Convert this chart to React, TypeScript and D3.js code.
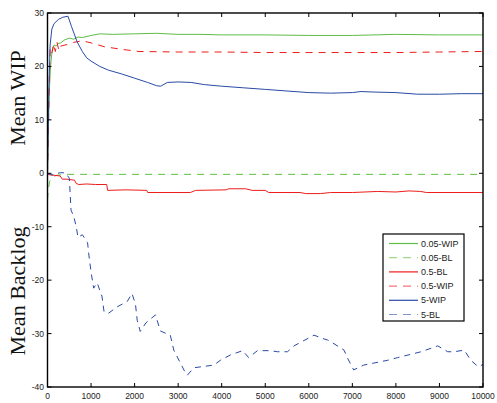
import React from 'react';
import * as d3 from 'd3';

const WIDTH = 497;
const HEIGHT = 403;
const PLOT = { left: 47.5, right: 483, top: 13, bottom: 387 };

type Pt = [number, number];

// time, value
const wip005: Pt[] = [
  [0, 0], [20, 8], [40, 15], [70, 20], [100, 22.5], [150, 24], [200, 23.8], [250, 24.3], [300, 24.4],
  [400, 25], [500, 25.3], [600, 25.1], [700, 25.5], [800, 25.4], [1000, 25.8], [1200, 26.1], [1500, 26],
  [2000, 26.1], [2500, 26.2], [3000, 26], [3500, 26], [4000, 25.9], [5000, 25.9], [6000, 25.8],
  [7000, 25.8], [8000, 26], [9000, 25.9], [10000, 25.9],
];
const bl005: Pt[] = [
  [0, -5], [20, -3], [50, -1.5], [100, -0.8], [200, -0.4], [400, -0.2], [1000, -0.2], [3000, -0.2],
  [6000, -0.2], [8000, -0.2], [10000, -0.2],
];
const bl05: Pt[] = [
  [0, -0.2], [60, -0.3], [290, -0.5], [340, -1.1], [450, -1.1], [620, -1.3], [660, -1.9], [720, -2.1],
  [900, -2], [1100, -2.1], [1360, -2.1], [1380, -3.2], [1800, -3.1], [2280, -3.2], [2300, -3.6],
  [3280, -3.6], [3400, -3.2], [4100, -3.1], [4160, -2.9], [4550, -2.9], [4700, -3.2], [5000, -3.2],
  [5080, -3.6], [5800, -3.6], [5930, -3.8], [6270, -3.8], [6500, -3.6], [7000, -3.6], [7580, -3.4],
  [8000, -3.5], [8300, -3.3], [8570, -3.4], [8700, -3.6], [10000, -3.6],
];
const wip05: Pt[] = [
  [0, 0], [30, 12], [60, 23.4], [100, 22.5], [140, 24.2], [180, 22.8], [220, 24.5], [260, 23], [300, 23.8],
  [400, 24], [500, 24.2], [600, 24.5], [800, 24.8], [1000, 24.4], [1300, 23.7], [1700, 23.2],
  [2100, 22.8], [3000, 22.7], [4000, 22.7], [5000, 22.6], [6000, 22.6], [7000, 22.6], [8000, 22.6],
  [9000, 22.7], [10000, 22.8],
];
const wip5: Pt[] = [
  [0, 0], [30, 15], [60, 24], [100, 27], [150, 28], [250, 28.8], [350, 29.2], [470, 29.4], [550, 27.5],
  [680, 24.6], [800, 22.8], [900, 21.6], [1000, 21], [1200, 20], [1400, 19.3], [1700, 18.6], [2000, 17.8],
  [2300, 17], [2500, 16.4], [2600, 16.3], [2750, 17], [3000, 17.1], [3300, 17], [3600, 16.6],
  [4000, 16.3], [4500, 16], [5000, 15.7], [5500, 15.4], [6000, 15.1], [6500, 15], [7000, 15.1],
  [7200, 15.3], [7500, 15.2], [8000, 15.1], [8500, 14.8], [9000, 14.8], [9500, 14.9], [10000, 14.9],
];
const bl5: Pt[] = [
  [0, 0], [100, -0.3], [290, 0.1], [410, 0.1], [500, -0.9], [510, -2.2], [540, -6.9], [600, -8],
  [660, -10], [700, -12], [800, -11.5], [920, -13], [960, -16], [1010, -19], [1060, -21.5], [1140, -20.5],
  [1250, -23], [1300, -26], [1400, -26.2], [1600, -25], [1830, -24], [1940, -22.5], [2020, -24.5],
  [2060, -27.5], [2130, -29.6], [2260, -28], [2480, -26.5], [2590, -29.5], [2700, -29.9], [2820, -30.3],
  [2900, -33.1], [3170, -37.4], [3210, -37.8], [3360, -36.4], [3820, -35.9], [3970, -35], [4200, -34],
  [4480, -33.2], [4620, -34.5], [4820, -33.2], [5120, -33.2], [5280, -33.4], [5510, -33.4],
  [5660, -32.3], [6120, -30.3], [6350, -31], [6430, -31.2], [6500, -31.5], [6810, -33.1], [6890, -34.6],
  [7030, -36.8], [7260, -35.9], [7810, -35], [8040, -34.5], [8580, -33.4], [8960, -32.3], [9190, -33.4],
  [9340, -33.4], [9570, -33.1], [9720, -35], [9890, -36.2], [10000, -35.8],
];

const xTicks = [0, 1000, 2000, 3000, 4000, 5000, 6000, 7000, 8000, 9000, 10000];
const yTicks = [30, 20, 10, 0, -10, -20, -30, -40];

const GREEN = '#5fbd45';
const RED = '#ee1c1c';
const BLUE = '#2a4aa5';

const series = [
  { name: '0.05-WIP', data: wip005, color: GREEN, dash: null },
  { name: '0.05-BL', data: bl005, color: GREEN, dash: '7,6' },
  { name: '0.5-BL', data: bl05, color: RED, dash: null },
  { name: '0.5-WIP', data: wip05, color: RED, dash: '7,6' },
  { name: '5-WIP', data: wip5, color: BLUE, dash: null },
  { name: '5-BL', data: bl5, color: BLUE, dash: '6,5' },
];

export default function App() {
  const x = d3.scaleLinear().domain([0, 10000]).range([PLOT.left, PLOT.right]);
  const y = d3.scaleLinear().domain([-40, 30]).range([PLOT.bottom, PLOT.top]);
  const line = d3.line<Pt>().x((d) => x(d[0])).y((d) => y(d[1]));
  const tickFont = { fontFamily: 'Liberation Sans, Arial, sans-serif', fontSize: 8.5, fill: '#222' };

  return (
    <svg
      width={WIDTH}
      height={HEIGHT}
      style={{ position: 'absolute', left: 0, top: 0, background: '#fff' }}
    >
      {/* series, drawn in order so blue sits on top */}
      {series.map((s) => (
        <path
          key={s.name}
          d={line(s.data) || ''}
          fill="none"
          stroke={s.color}
          strokeWidth={1}
          strokeDasharray={s.dash || undefined}
        />
      ))}

      {/* box */}
      <rect
        x={PLOT.left}
        y={PLOT.top}
        width={PLOT.right - PLOT.left}
        height={PLOT.bottom - PLOT.top}
        fill="none"
        stroke="#000"
        strokeWidth={1.4}
      />

      {/* x ticks */}
      {xTicks.map((t) => (
        <g key={'x' + t}>
          <line x1={x(t)} x2={x(t)} y1={PLOT.bottom} y2={PLOT.bottom - 4} stroke="#000" />
          <line x1={x(t)} x2={x(t)} y1={PLOT.top} y2={PLOT.top + 4} stroke="#000" />
          <text x={x(t)} y={399} textAnchor="middle" style={tickFont}>{t}</text>
        </g>
      ))}

      {/* y ticks */}
      {yTicks.map((t) => (
        <g key={'y' + t}>
          <line x1={PLOT.left} x2={PLOT.left + 4} y1={y(t)} y2={y(t)} stroke="#000" />
          <line x1={PLOT.right} x2={PLOT.right - 4} y1={y(t)} y2={y(t)} stroke="#000" />
          <text x={44} y={y(t)} dy="0.35em" textAnchor="end" style={tickFont}>{t}</text>
        </g>
      ))}

      {/* axis titles */}
      <text
        transform="translate(25,98) rotate(-90)"
        textAnchor="middle"
        style={{ fontFamily: 'Liberation Serif, Times New Roman, serif', fontSize: 22, fill: '#111' }}
      >
        Mean WIP
      </text>
      <text
        transform="translate(25,291) rotate(-90)"
        textAnchor="middle"
        style={{ fontFamily: 'Liberation Serif, Times New Roman, serif', fontSize: 22, fill: '#111' }}
      >
        Mean Backlog
      </text>

      {/* legend */}
      <g>
        <rect x={383} y={234} width={81} height={87} fill="#fff" stroke="#000" strokeWidth={1.2} />
        {series.map((s, i) => {
          const ly = 243.5 + i * 14.2;
          return (
            <g key={'l' + s.name}>
              <line
                x1={389}
                x2={418}
                y1={ly}
                y2={ly}
                stroke={s.color}
                strokeWidth={1.2}
                strokeOpacity={s.dash ? 0.6 : 1}
                strokeDasharray={s.dash ? '8,6' : undefined}
              />
              <text x={421} y={ly} dy="0.35em" style={{ ...tickFont, fontSize: 9 }}>{s.name}</text>
            </g>
          );
        })}
      </g>
    </svg>
  );
}
